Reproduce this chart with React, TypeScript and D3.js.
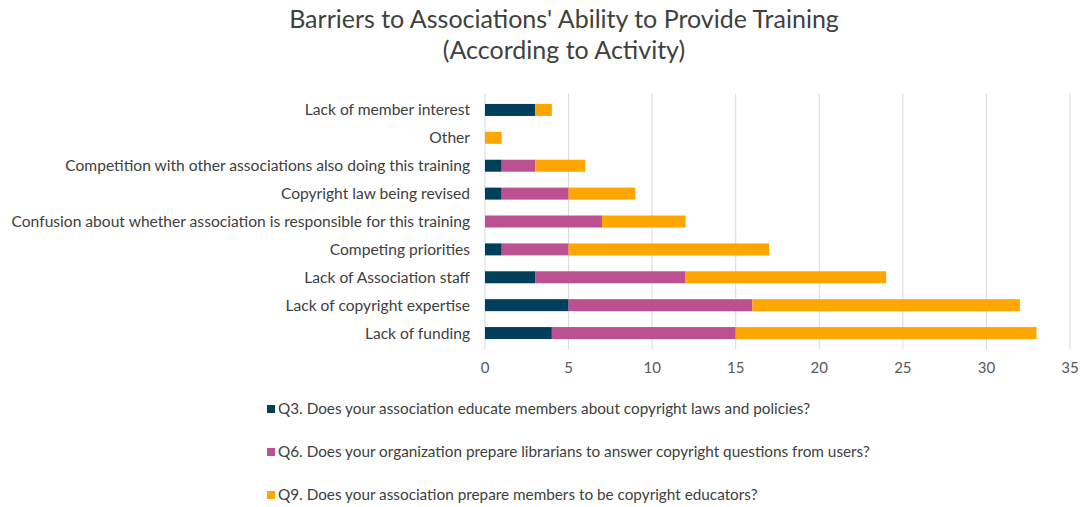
import React from "react";
import * as d3 from "d3";

const categories = [
  "Lack of member interest",
  "Other",
  "Competition with other associations also doing this training",
  "Copyright law being revised",
  "Confusion about whether association is responsible for this training",
  "Competing priorities",
  "Lack of Association staff",
  "Lack of copyright expertise",
  "Lack of funding",
];
const q3 = [3, 0, 1, 1, 0, 1, 3, 5, 4];
const q6 = [0, 0, 2, 4, 7, 4, 9, 11, 11];
const q9 = [1, 1, 3, 4, 5, 12, 12, 16, 18];
const seriesNames = [
  "Q3. Does your association educate members about copyright laws and policies?",
  "Q6. Does your organization prepare librarians to answer copyright questions from users?",
  "Q9. Does your association prepare members to be copyright educators?",
];
const colors = ["#003f5c", "#bc5090", "#ffa600"];
const xTicks = [0, 5, 10, 15, 20, 25, 30, 35];

export default function App() {
  const W = 1087, H = 507;
  const x = d3.scaleLinear().domain([0, 35]).range([485, 1070]);
  const y = d3.scaleBand().domain(categories).range([96, 347]).paddingInner(0.57).paddingOuter(0.285);
  const rows = categories.map((c, i) => ({ c, vals: [q3[i], q6[i], q9[i]] }));
  const stack = d3.stack<any>().keys(["0", "1", "2"]).value((d: any, k: string) => d.vals[+k]);
  const stacked = stack(rows as any);
  const font = "Lato, 'Open Sans', sans-serif";
  return (
    <svg width={W} height={H} style={{ position: "absolute", left: 0, top: 0, background: "#fff" }} fontFamily={font}>
      <text x={564} y={28} textAnchor="middle" fontSize={25} fill="#404040">Barriers to Associations' Ability to Provide Training</text>
      <text x={564} y={59} textAnchor="middle" fontSize={25} fill="#404040">(According to Activity)</text>
      {xTicks.map((t) => (
        <g key={t}>
          <line x1={x(t)} x2={x(t)} y1={94} y2={349} stroke="#d9d9d9" strokeWidth={1} />
          <text x={x(t)} y={373} textAnchor="middle" fontSize={15} fill="#595959">{t}</text>
        </g>
      ))}
      {stacked.map((s, si) => (
        <g key={si} fill={colors[si]}>
          {s.map((d, i) => (
            <rect key={i} x={x(d[0])} y={y(categories[i])!} width={x(d[1]) - x(d[0])} height={y.bandwidth()} />
          ))}
        </g>
      ))}
      {categories.map((c) => (
        <text key={c} x={470} y={y(c)! + y.bandwidth() / 2} dy="0.35em" textAnchor="end" fontSize={15.6} fill="#404040">{c}</text>
      ))}
      {seriesNames.map((n, i) => (
        <g key={n}>
          <rect x={267} y={405 + i * 43} width={8} height={8} fill={colors[i]} />
          <text x={278} y={409 + i * 43} dy="0.35em" fontSize={15.3} fill="#404040">{n}</text>
        </g>
      ))}
    </svg>
  );
}
